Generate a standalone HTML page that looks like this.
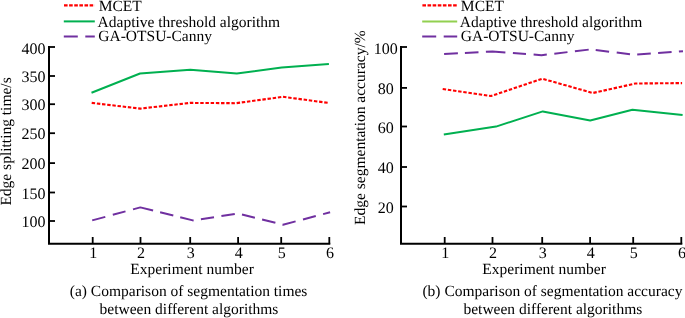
<!DOCTYPE html>
<html><head><meta charset="utf-8"><style>
html,body{margin:0;padding:0;background:#fff;width:685px;height:318px;overflow:hidden}
svg{display:block;will-change:transform}
text{font-family:"Liberation Serif",serif;fill:#000;text-rendering:geometricPrecision}
</style></head><body>
<svg width="685" height="318" viewBox="0 0 685 318">
<path d="M49,46 V244.8 M48,243.8 H330.3" stroke="#000" stroke-width="2" fill="none"/>
<path d="M49,47 H55" stroke="#000" stroke-width="1.8"/>
<text x="33.6" y="54.0" text-anchor="middle" font-size="16">400</text>
<path d="M49,76 H55" stroke="#000" stroke-width="1.8"/>
<text x="33.6" y="82.0" text-anchor="middle" font-size="16">350</text>
<path d="M49,104.2 H55" stroke="#000" stroke-width="1.8"/>
<text x="33.6" y="110.2" text-anchor="middle" font-size="16">300</text>
<path d="M49,133.2 H55" stroke="#000" stroke-width="1.8"/>
<text x="33.6" y="139.2" text-anchor="middle" font-size="16">250</text>
<path d="M49,163.1 H55" stroke="#000" stroke-width="1.8"/>
<text x="33.6" y="169.1" text-anchor="middle" font-size="16">200</text>
<path d="M49,192.5 H55" stroke="#000" stroke-width="1.8"/>
<text x="33.6" y="198.5" text-anchor="middle" font-size="16">150</text>
<path d="M49,221 H55" stroke="#000" stroke-width="1.8"/>
<text x="33.6" y="227.0" text-anchor="middle" font-size="16">100</text>
<path d="M92.7,237 V243.8" stroke="#000" stroke-width="1.8"/>
<text x="93.3" y="258.1" text-anchor="middle" font-size="16">1</text>
<path d="M140.5,237 V243.8" stroke="#000" stroke-width="1.8"/>
<text x="141.1" y="258.1" text-anchor="middle" font-size="16">2</text>
<path d="M190.2,237 V243.8" stroke="#000" stroke-width="1.8"/>
<text x="190.79999999999998" y="258.1" text-anchor="middle" font-size="16">3</text>
<path d="M238.1,237 V243.8" stroke="#000" stroke-width="1.8"/>
<text x="238.7" y="258.1" text-anchor="middle" font-size="16">4</text>
<path d="M281.2,237 V243.8" stroke="#000" stroke-width="1.8"/>
<text x="281.8" y="258.1" text-anchor="middle" font-size="16">5</text>
<path d="M329.3,237 V243.8" stroke="#000" stroke-width="1.8"/>
<text x="329.90000000000003" y="258.1" text-anchor="middle" font-size="16">6</text>
<path d="M64.0,5.35 H94.8" stroke="#ff0000" stroke-width="2.1" stroke-dasharray="3.6 1.52"/>
<path d="M63.8,21.4 H94.8" stroke="#00b050" stroke-width="2"/>
<path d="M63.8,36.5 H94.8" stroke="#7030a0" stroke-width="2" stroke-dasharray="14 7.5"/>
<text x="98.65" y="10.6" font-size="15.5">MCET</text>
<text x="97.6" y="26.6" font-size="15.5">Adaptive threshold algorithm</text>
<text x="98.3" y="41" font-size="15.5">GA-OTSU-Canny</text>
<path d="M91.5,92.80 L140,73.50 L190.3,69.70 L236.8,73.60 L281.7,67.40 L328.9,64.10" stroke="#00b050" stroke-width="2.0" fill="none" stroke-linejoin="round"/>
<path d="M91.7,102.90 L140.4,108.60 L190,102.90 L236,103.20 L282.9,96.80 L328.3,102.90" stroke="#ff0000" stroke-width="2.1" fill="none" stroke-linejoin="round" stroke-dasharray="3.45 1.75"/>
<path d="M92.20,220.40 L105.30,216.86 M112.80,214.83 L125.50,211.40 M133.00,209.37 L140.30,207.40 L153.10,210.57 M160.10,212.30 L173.30,215.57 M180.20,217.28 L192.80,220.40 L193.60,220.28 M200.90,219.17 L214.00,217.18 M221.40,216.05 L234.80,214.02 M242.00,214.45 L254.90,217.68 M262.10,219.48 L275.40,222.80 M282.50,224.58 L283.00,224.70 L295.60,221.38 M303.00,219.43 L315.80,216.06 M323.10,214.14 L330.10,212.30" stroke="#7030a0" stroke-width="2.0" fill="none" stroke-linejoin="round"/>
<text transform="translate(11.0,205.6) rotate(-90)" font-size="15.5">Edge splitting time/s</text>
<text x="192.1" y="273.6" text-anchor="middle" font-size="15.5">Experiment number</text>
<text x="188.6" y="295.9" text-anchor="middle" font-size="15.5">(a) Comparison of segmentation times</text>
<text x="189" y="313.6" text-anchor="middle" font-size="15.5">between different algorithms</text>
<path d="M401,46 V244.8 M400,243.8 H682.3" stroke="#000" stroke-width="2" fill="none"/>
<path d="M401,47 H407" stroke="#000" stroke-width="1.8"/>
<text x="385.7" y="54.0" text-anchor="middle" font-size="16">100</text>
<path d="M401,87.9 H407" stroke="#000" stroke-width="1.8"/>
<text x="385.7" y="93.9" text-anchor="middle" font-size="16">80</text>
<path d="M401,126.5 H407" stroke="#000" stroke-width="1.8"/>
<text x="385.7" y="132.5" text-anchor="middle" font-size="16">60</text>
<path d="M401,167 H407" stroke="#000" stroke-width="1.8"/>
<text x="385.7" y="173.0" text-anchor="middle" font-size="16">40</text>
<path d="M401,206.5 H407" stroke="#000" stroke-width="1.8"/>
<text x="385.7" y="212.5" text-anchor="middle" font-size="16">20</text>
<path d="M444.7,237 V243.8" stroke="#000" stroke-width="1.8"/>
<text x="445.3" y="258.1" text-anchor="middle" font-size="16">1</text>
<path d="M492.5,237 V243.8" stroke="#000" stroke-width="1.8"/>
<text x="493.1" y="258.1" text-anchor="middle" font-size="16">2</text>
<path d="M542.2,237 V243.8" stroke="#000" stroke-width="1.8"/>
<text x="542.8000000000001" y="258.1" text-anchor="middle" font-size="16">3</text>
<path d="M590.1,237 V243.8" stroke="#000" stroke-width="1.8"/>
<text x="590.7" y="258.1" text-anchor="middle" font-size="16">4</text>
<path d="M633.2,237 V243.8" stroke="#000" stroke-width="1.8"/>
<text x="633.8000000000001" y="258.1" text-anchor="middle" font-size="16">5</text>
<path d="M681.3,237 V243.8" stroke="#000" stroke-width="1.8"/>
<text x="681.9" y="258.1" text-anchor="middle" font-size="16">6</text>
<path d="M422.4,5.35 H457.2" stroke="#ff0000" stroke-width="2.1" stroke-dasharray="3.6 1.52"/>
<path d="M422.2,21.4 H457.2" stroke="#92d050" stroke-width="2"/>
<path d="M422.2,36.5 H457.2" stroke="#7030a0" stroke-width="2" stroke-dasharray="14 7.5"/>
<text x="460.85" y="10.6" font-size="15.5">MCET</text>
<text x="459.85" y="26.6" font-size="15.5">Adaptive threshold algorithm</text>
<text x="460.8" y="41" font-size="15.5">GA-OTSU-Canny</text>
<path d="M444.10,54.10 L457.90,53.36 M464.90,52.98 L478.50,52.25 M485.90,51.85 L492.50,51.50 L505.40,52.47 M512.90,53.04 L526.00,54.03 M533.60,54.60 L541.50,55.20 L546.80,54.57 M554.30,53.69 L567.50,52.13 M574.90,51.25 L588.70,49.62 M595.70,50.03 L609.10,51.67 M616.70,52.60 L630.00,54.23 M637.20,54.46 L650.80,53.49 M658.10,52.97 L671.60,52.01 M678.90,51.49 L683.00,51.20" stroke="#7030a0" stroke-width="2.0" fill="none" stroke-linejoin="round"/>
<path d="M442.7,89.00 L491.1,96.00 L542.3,78.70 L592.8,93.00 L635.5,83.50 L682.1,83.10" stroke="#ff0000" stroke-width="2.1" fill="none" stroke-linejoin="round" stroke-dasharray="3.45 1.75"/>
<path d="M443.8,134.50 L496,126.60 L542.8,111.40 L590.2,120.50 L632.4,109.70 L682.6,115.00" stroke="#00b050" stroke-width="2.0" fill="none" stroke-linejoin="round"/>
<text transform="translate(365.0,224.9) rotate(-90)" font-size="15.5">Edge segmentation accuracy/%</text>
<text x="544.1" y="273.6" text-anchor="middle" font-size="15.5">Experiment number</text>
<text x="552.45" y="295.9" text-anchor="middle" font-size="15.5">(b) Comparison of segmentation accuracy</text>
<text x="552.85" y="313.6" text-anchor="middle" font-size="15.5">between different algorithms</text>
</svg>
</body></html>
